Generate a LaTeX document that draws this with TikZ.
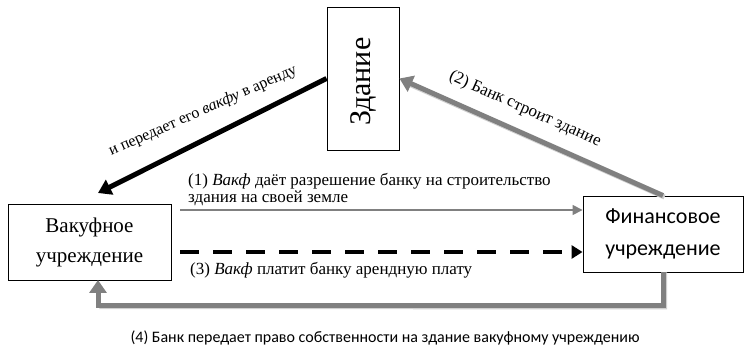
\documentclass[tikz,border=0pt]{standalone}
\usepackage{fontspec}
\setmainfont{Liberation Serif}
\newfontfamily\calib{Carlito}
\usetikzlibrary{arrows.meta,calc}
\definecolor{arrgray}{HTML}{808080}
\definecolor{shgray}{HTML}{D0D0D0}
\tikzset{
  boxnode/.style={draw=black,line width=0.9pt,inner sep=0pt,align=center},
  serlabel/.style={font=\fontsize{17}{17.5}\selectfont,inner sep=0pt,align=left},
  thickblack/.style={line width=5pt,black,-{Triangle[length=13pt,width=16pt]}},
  thickgray/.style={line width=5pt,arrgray,-{Triangle[length=13pt,width=17pt]}},
  thingray/.style={line width=1.6pt,arrgray,-{Triangle[length=10pt,width=10pt]}},
  dashblack/.style={line width=4pt,black,dash pattern=on 19pt off 14pt,-{Triangle[length=11pt,width=13pt]}},
}
\begin{document}
\begin{tikzpicture}[x=1pt,y=-1pt]
\useasboundingbox (0,0) rectangle (744,363);
% nodes
\node[boxnode,minimum width=72pt,minimum height=143pt] (zd) at (363,78.5)
  {\rotatebox{90}{\makebox[95pt][l]{\fontsize{30}{36}\selectfont Здание}}};
\node[boxnode,minimum width=163pt,minimum height=76pt,font=\fontsize{21}{30}\selectfont] (vak) at (89.5,242)
  {Вакуфное\\учреждение};
\node[boxnode,minimum width=160pt,minimum height=76pt,font=\calib\fontsize{22}{32}\selectfont] (fin) at (663,234)
  {Финансовое\\учреждение};
\coordinate (bend) at (98,193);
\coordinate (s1) at (180,210);
\coordinate (s3) at (180,252);
\coordinate (v4) at (98,280);
% connectors
\draw[thickblack] (zd.west) -- (bend);
\draw[shgray,line width=5pt] ($(fin.north)+(1.5,1.5)$) -- ($(zd.east)+(5,3.5)$);
\draw[thickgray] (fin.north) -- (zd.east);
\draw[thingray] (s1) -- (s1 -| fin.west);
\draw[dashblack] (s3) -- (s3 -| fin.west);
\draw[shgray,line width=5pt] ($(fin.south)+(1.5,0)$) -- ++(0,34.5) -- ($(v4)+(1.5,26.5)$);
\draw[thickgray] (fin.south) -- ++(0,33) -| (v4);
% labels
\node[serlabel,anchor=base west] (l1) at (188,203)
  {(1) \textit{Вакф} даёт разрешение банку на строительство\\здания на своей земле};
\node[serlabel,anchor=base west] (l3) at (190,275)
  {(3) \textit{Вакф} платит банку арендную плату};
\node[serlabel,font=\fontsize{16}{17}\selectfont,rotate=24] (la) at (203,111)
  {и передает его \textit{вакфу} в аренду};
\node[serlabel,rotate=-24] (lb) at (525,109)
  {(2) Банк строит здание};
\node[font=\calib\fontsize{16}{18}\selectfont,inner sep=0pt,anchor=base] (l4) at (385,342)
  {(4) Банк передает право собственности на здание вакуфному учреждению};
\end{tikzpicture}
\end{document}
